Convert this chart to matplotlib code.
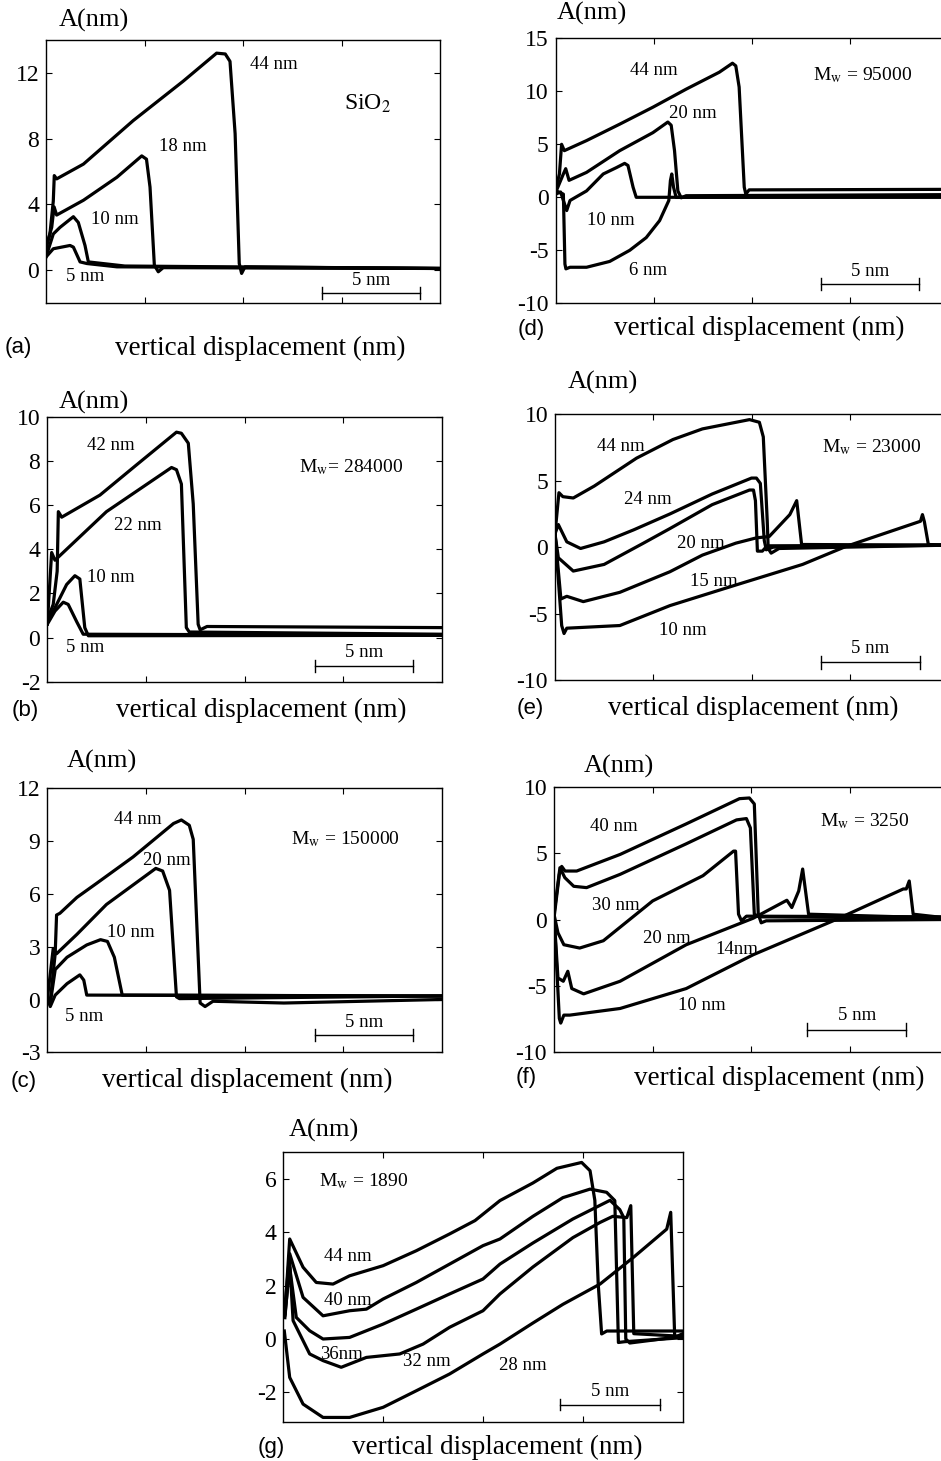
import matplotlib
matplotlib.use("Agg")
import matplotlib.pyplot as plt

plt.rcParams['font.family'] = ['Liberation Serif', 'DejaVu Serif']
plt.rcParams['mathtext.fontset'] = 'stix'
plt.rcParams['axes.unicode_minus'] = False

# x in nm of vertical displacement, y = A (nm)
# (a) SiO2
a44_x = [0, 0.2, 0.37, 0.42, 0.54, 1.9, 4.43, 6.97, 8.66, 9.1, 9.34, 9.6, 9.81, 9.93, 10.1, 20]
a44_y = [1.3, 2.2, 4.2, 5.75, 5.55, 6.45, 9.1, 11.5, 13.2, 13.15, 12.7, 8.3, 0.4, -0.2, 0.2, 0.1]
a18_x = [0, 0.29, 0.41, 0.54, 1.9, 3.6, 4.86, 5.1, 5.28, 5.5, 5.7, 5.95, 20]
a18_y = [1.4, 2.6, 3.85, 3.35, 4.25, 5.65, 6.95, 6.75, 5.05, 0.3, -0.1, 0.15, 0.1]
a10_x = [0, 0.37, 0.71, 1.39, 1.64, 1.98, 2.15, 4.0, 20]
a10_y = [0.8, 2.2, 2.6, 3.25, 2.9, 1.5, 0.5, 0.25, 0.1]
a5_x = [0, 0.37, 1.22, 1.39, 1.73, 2.08, 3.6, 20]
a5_y = [0.8, 1.3, 1.5, 1.4, 0.5, 0.4, 0.2, 0.1]

# (d) Mw = 95000
d44_x = [0, 0.19, 0.3, 0.44, 1.57, 3.26, 4.95, 6.64, 8.33, 9.0, 9.17, 9.34, 9.6, 9.68, 9.85, 20]
d44_y = [0.8, 2.2, 5.0, 4.4, 5.35, 6.9, 8.5, 10.2, 11.8, 12.65, 12.4, 10.4, 0.95, 0.3, 0.7, 0.75]
d20_x = [0, 0.39, 0.51, 0.68, 1.57, 3.26, 4.95, 5.71, 5.88, 6.05, 6.22, 6.39, 6.64, 20]
d20_y = [0.47, 2.2, 2.7, 1.6, 2.35, 4.4, 6.1, 7.1, 6.8, 4.4, 0.6, -0.05, 0.15, 0.25]
d10_x = [0, 0.25, 0.56, 0.73, 1.57, 2.42, 3.09, 3.51, 3.68, 3.94, 4.1, 20]
d10_y = [0.3, 0.5, -1.25, -0.3, 0.6, 2.2, 2.8, 3.2, 3.0, 0.95, 0.0, 0.0]
d6_x = [0, 0.39, 0.47, 0.52, 0.73, 1.57, 2.75, 3.77, 4.61, 5.29, 5.76, 5.84, 5.91, 6.0, 6.13, 20]
d6_y = [0.63, 0.3, -6.3, -6.75, -6.6, -6.6, -6.05, -5.0, -3.8, -2.2, -0.3, 1.57, 2.2, 0.95, 0.0, 0.05]

# (b) Mw = 284000
b42_x = [0, 0.3, 0.5, 0.56, 0.73, 2.67, 4.5, 6.55, 6.8, 7.15, 7.4, 7.65, 7.75, 8.1, 20]
b42_y = [0.8, 1.5, 3.0, 5.7, 5.45, 6.45, 7.8, 9.3, 9.25, 8.8, 6.05, 0.6, 0.35, 0.5, 0.45]
b22_x = [0, 0.22, 0.39, 3.0, 6.3, 6.55, 6.8, 7.05, 7.2, 20]
b22_y = [0.6, 3.85, 3.5, 5.7, 7.7, 7.6, 6.95, 0.45, 0.25, 0.15]
b10_x = [0, 0.39, 0.98, 1.4, 1.65, 1.9, 2.08, 20]
b10_y = [0.75, 1.35, 2.4, 2.8, 2.65, 0.45, 0.08, 0.1]
b5_x = [0, 0.39, 0.81, 1.06, 1.5, 1.82, 20]
b5_y = [0.6, 1.2, 1.6, 1.5, 0.7, 0.15, 0.1]

# (e) Mw = 23000
e44_x = [0, 0.2, 0.4, 0.93, 2.0, 4.15, 6.0, 7.5, 9.9, 10.4, 10.6, 10.8, 10.85, 11.0, 11.4, 20]
e44_y = [1.0, 4.1, 3.8, 3.7, 4.6, 6.7, 8.1, 8.9, 9.6, 9.4, 8.3, 2.0, -0.1, -0.45, -0.1, 0.15]
e24_x = [0, 0.17, 0.6, 1.3, 2.5, 4.0, 5.85, 8.0, 10.0, 10.25, 10.45, 10.65, 10.75, 11.1, 20]
e24_y = [1.0, 1.7, 0.4, -0.1, 0.4, 1.3, 2.5, 4.0, 5.2, 5.2, 4.8, 0.5, -0.2, 0.0, 0.15]
e20_x = [0, 0.17, 0.93, 2.5, 4.5, 5.85, 8.0, 9.9, 10.1, 10.2, 10.3, 10.55, 10.8, 20]
e20_y = [1.0, -0.8, -1.8, -1.3, 0.3, 1.4, 3.2, 4.3, 4.3, 3.5, -0.3, -0.3, 0.1, 0.15]
e15_x = [0, 0.3, 0.6, 1.44, 3.3, 5.85, 7.5, 9.2, 10.25, 10.9, 11.95, 12.3, 12.55, 20]
e15_y = [1.0, -3.9, -3.7, -4.1, -3.4, -1.85, -0.6, 0.3, 0.7, 0.8, 2.45, 3.5, 0.2, 0.15]
e10_x = [0, 0.34, 0.46, 0.6, 3.3, 5.85, 9.2, 12.6, 14.8, 18.4, 18.6, 18.7, 18.8, 19.0, 20]
e10_y = [1.0, -5.9, -6.5, -6.1, -5.9, -4.4, -2.85, -1.3, 0.05, 1.85, 1.95, 2.45, 1.9, 0.2, 0.15]

# (c) Mw = 150000
c44_x = [0, 0.14, 0.4, 0.47, 0.64, 1.5, 2.5, 4.35, 6.4, 6.8, 7.2, 7.4, 7.75, 8.0, 8.4, 12, 20]
c44_y = [0.15, -0.2, 2.6, 4.8, 4.9, 5.8, 6.6, 8.1, 10.0, 10.2, 9.9, 9.1, -0.2, -0.4, -0.1, -0.2, 0.0]
c20_x = [0, 0.3, 0.47, 1.5, 3.0, 5.5, 5.85, 6.2, 6.55, 6.7, 20]
c20_y = [0.0, 2.9, 2.6, 3.7, 5.4, 7.45, 7.3, 6.2, 0.15, 0.05, 0.2]
c10_x = [0, 0.14, 0.4, 1.0, 2.0, 2.7, 3.05, 3.4, 3.8, 20]
c10_y = [0.0, -0.3, 1.7, 2.4, 3.1, 3.4, 3.3, 2.4, 0.25, 0.2]
c5_x = [0, 0.15, 0.4, 1.0, 1.65, 1.85, 2.0, 20]
c5_y = [0.15, -0.4, 0.25, 0.9, 1.4, 1.1, 0.25, 0.2]

# (f) Mw = 3250
f40_x = [0, 0.27, 0.39, 0.56, 1.15, 3.35, 6.7, 9.4, 9.9, 10.15, 10.35, 10.5, 10.75, 20]
f40_y = [0.1, 3.4, 4.0, 3.65, 3.65, 4.9, 7.2, 9.1, 9.15, 8.7, 0.4, -0.25, -0.1, 0.0]
f30_x = [0, 0.3, 0.55, 1.0, 1.65, 3.35, 6.7, 9.25, 9.75, 9.95, 10.15, 10.4, 20]
f30_y = [0.4, 3.9, 3.15, 2.5, 2.4, 3.4, 5.7, 7.5, 7.6, 6.9, 0.4, 0.2, 0.1]
f20_x = [0, 0.2, 0.5, 1.3, 2.5, 5.0, 7.55, 9.1, 9.2, 9.35, 9.5, 9.75, 20]
f20_y = [0.4, -1.0, -1.9, -2.15, -1.6, 1.4, 3.3, 5.15, 5.15, 0.4, -0.1, 0.25, 0.2]
f14_x = [0, 0.2, 0.47, 0.7, 0.9, 1.5, 3.35, 6.7, 10.1, 11.8, 12.05, 12.4, 12.6, 12.9, 20]
f14_y = [0.4, -4.4, -4.65, -3.9, -5.2, -5.6, -4.65, -1.9, 0.1, 1.45, 0.9, 2.15, 3.8, 0.4, 0.1]
f10_x = [0, 0.27, 0.34, 0.5, 0.8, 3.35, 6.7, 10.1, 14.3, 17.7, 17.85, 18.0, 18.2, 20]
f10_y = [0.4, -7.45, -7.8, -7.2, -7.2, -6.7, -5.2, -2.65, 0.0, 2.3, 2.3, 2.9, 0.4, 0.1]

# (g) Mw = 1890
g44_x = [0.08, 0.32, 0.99, 1.65, 2.49, 3.32, 5.0, 6.66, 8.33, 9.6, 10.85, 12.5, 13.7, 14.94, 15.36, 15.6, 15.77, 15.94, 16.2, 20]
g44_y = [0.95, 3.75, 2.69, 2.12, 2.06, 2.37, 2.75, 3.31, 3.94, 4.44, 5.19, 5.85, 6.4, 6.62, 6.31, 5.2, 2.06, 0.19, 0.3, 0.3]
g40_x = [0.08, 0.32, 0.99, 1.99, 3.32, 4.16, 5.0, 6.66, 8.33, 10.0, 10.85, 12.5, 14.0, 15.36, 16.19, 16.6, 16.78, 17.1, 20]
g40_y = [1.2, 3.2, 1.56, 0.87, 1.06, 1.12, 1.5, 2.12, 2.81, 3.5, 3.75, 4.6, 5.3, 5.62, 5.5, 5.19, -0.13, -0.1, 0.05]
g36_x = [0.08, 0.32, 0.65, 1.32, 1.99, 3.32, 5.0, 6.66, 8.33, 10.0, 10.85, 12.5, 14.5, 16.36, 16.85, 17.05, 17.15, 17.35, 20]
g36_y = [0.9, 2.69, 0.81, 0.31, 0.0, 0.06, 0.56, 1.12, 1.69, 2.25, 2.81, 3.6, 4.5, 5.2, 4.85, 4.55, 0.0, -0.15, 0.1]
g32_x = [0.08, 0.32, 0.49, 1.32, 1.99, 2.9, 4.16, 5.83, 7.0, 8.33, 10.0, 10.85, 12.5, 14.5, 15.86, 16.5, 17.2, 17.4, 17.55, 20]
g32_y = [0.8, 2.9, 0.69, -0.56, -0.81, -1.06, -0.69, -0.56, -0.19, 0.44, 1.06, 1.69, 2.7, 3.8, 4.37, 4.6, 4.55, 5.0, 0.2, 0.1]
g28_x = [0.05, 0.32, 0.99, 1.99, 3.32, 5.0, 6.66, 8.33, 10.0, 10.85, 12.5, 14.0, 15.86, 17.53, 19.2, 19.4, 19.6, 20]
g28_y = [0.3, -1.44, -2.44, -2.94, -2.94, -2.56, -1.94, -1.31, -0.56, -0.19, 0.6, 1.3, 2.06, 3.06, 4.12, 4.75, 0.06, 0.2]

W, H = 941, 1461
fig = plt.figure(figsize=(W / 100, H / 100), dpi=100)

LAB = 13.5    # in-panel curve labels
XL = 19.5     # x axis label


def box(l, t, r, b):
    return fig.add_axes([l / W, 1 - b / H, (r - l) / W, (b - t) / H])


def ftext(x, y, s, **kw):
    fig.text(x / W, 1 - y / H, s, ha='center', va='center', **kw)


def setup(ax, ylim, yticks):
    ax.set_xlim(0, 20)
    ax.set_ylim(*ylim)
    ax.set_xticks([5, 10, 15])
    ax.set_xticklabels([])
    ax.set_yticks(yticks)
    ax.tick_params(direction='in', top=True, right=True, length=4, width=0.8,
                   labelsize=17, pad=5)
    for s in ax.spines.values():
        s.set_linewidth(1.0)


def curve(ax, xs, ys):
    ax.plot(xs, ys, color='black', lw=2.3, solid_joinstyle='round')


def scalebar(ax, x0, y, dy):
    ax.plot([x0, x0 + 5], [y, y], color='black', lw=1.0)
    ax.plot([x0, x0], [y - dy, y + dy], color='black', lw=1.0)
    ax.plot([x0 + 5, x0 + 5], [y - dy, y + dy], color='black', lw=1.0)
    ax.text(x0 + 2.5, y + dy * 0.8, '5 nm', ha='center', va='bottom', fontsize=LAB)


def lab(ax, x, y, s, size=LAB):
    ax.text(x, y, s, ha='center', va='center', fontsize=size)


def frame_text(ay, lx, ly, tag, tx, ty, xx, xy):
    ftext(ay[0], ay[1], 'A(nm)', fontsize=19)
    ftext(tx, ty, tag, fontsize=16, family='Liberation Sans')
    ftext(xx, xy, 'vertical displacement (nm)', fontsize=XL)


# ---- (a)
ax = box(46, 40, 440, 303)
setup(ax, (-2, 14), [0, 4, 8, 12])
for xs, ys in [(a44_x, a44_y), (a18_x, a18_y), (a10_x, a10_y), (a5_x, a5_y)]:
    curve(ax, xs, ys)
lab(ax, 11.57, 12.5, '44 nm')
lab(ax, 16.3, 10.1, r'SiO$_2$', 17)
lab(ax, 6.95, 7.5, '18 nm')
lab(ax, 3.5, 3.1, '10 nm')
lab(ax, 2.0, -0.36, '5 nm')
scalebar(ax, 14.0, -1.4, 0.35)
frame_text((94, 20), 0, 0, '(a)', 18, 348, 260, 348)

# ---- (d)
ax = box(555.7, 38.3, 948.5, 303.3)
setup(ax, (-10, 15), [-10, -5, 0, 5, 10, 15])
for xs, ys in [(d44_x, d44_y), (d20_x, d20_y), (d10_x, d10_y), (d6_x, d6_y)]:
    curve(ax, xs, ys)
lab(ax, 4.98, 11.95, '44 nm')
lab(ax, 6.96, 7.86, '20 nm')
lab(ax, 2.79, -2.2, '10 nm')
lab(ax, 4.71, -6.9, '6 nm')
lab(ax, 15.6, 11.5, r'M$_{\mathrm{w}}$ = 95000', 14)
scalebar(ax, 13.5, -8.2, 0.55)
frame_text((592, 13), 0, 0, '(d)', 531, 330, 759, 328)

# ---- (b)
ax = box(47.3, 416.7, 441.7, 681.7)
setup(ax, (-2, 10), [-2, 0, 2, 4, 6, 8, 10])
for xs, ys in [(b42_x, b42_y), (b22_x, b22_y), (b10_x, b10_y), (b5_x, b5_y)]:
    curve(ax, xs, ys)
lab(ax, 3.23, 8.7, '42 nm')
lab(ax, 4.6, 5.08, '22 nm')
lab(ax, 3.2, 2.73, '10 nm')
lab(ax, 1.93, -0.45, '5 nm')
lab(ax, 15.4, 7.73, r'M$_{\mathrm{w}}$= 284000', 14)
scalebar(ax, 13.56, -1.29, 0.27)
frame_text((94, 402), 0, 0, '(b)', 25, 710, 261, 710)

# ---- (e)
ax = box(555, 414.3, 948, 680)
setup(ax, (-10, 10), [-10, -5, 0, 5, 10])
for xs, ys in [(e44_x, e44_y), (e24_x, e24_y), (e20_x, e20_y), (e15_x, e15_y), (e10_x, e10_y)]:
    curve(ax, xs, ys)
lab(ax, 3.34, 7.6, '44 nm')
lab(ax, 4.7, 3.6, '24 nm')
lab(ax, 7.4, 0.3, '20 nm')
lab(ax, 8.1, -2.6, '15 nm')
lab(ax, 6.5, -6.25, '10 nm')
lab(ax, 16.1, 7.55, r'M$_{\mathrm{w}}$ = 23000', 14)
scalebar(ax, 13.56, -8.66, 0.5)
frame_text((603, 382), 0, 0, '(e)', 530, 708, 753, 708)

# ---- (c)
ax = box(47.3, 788.3, 441.7, 1052.3)
setup(ax, (-3, 12), [-3, 0, 3, 6, 9, 12])
for xs, ys in [(c44_x, c44_y), (c20_x, c20_y), (c10_x, c10_y), (c5_x, c5_y)]:
    curve(ax, xs, ys)
lab(ax, 4.61, 10.25, '44 nm')
lab(ax, 6.08, 7.9, '20 nm')
lab(ax, 4.22, 3.8, '10 nm')
lab(ax, 1.88, -0.99, '5 nm')
lab(ax, 15.1, 9.1, r'M$_{\mathrm{w}}$ = 150000', 14)
scalebar(ax, 13.56, -2.03, 0.33)
frame_text((102, 761), 0, 0, '(c)', 24, 1081, 247, 1080)

# ---- (f)
ax = box(554, 786.7, 948.7, 1052.3)
setup(ax, (-10, 10), [-10, -5, 0, 5, 10])
for xs, ys in [(f40_x, f40_y), (f30_x, f30_y), (f20_x, f20_y), (f14_x, f14_y), (f10_x, f10_y)]:
    curve(ax, xs, ys)
lab(ax, 3.04, 6.98, '40 nm')
lab(ax, 3.13, 1.08, '30 nm')
lab(ax, 5.74, -1.44, '20 nm')
lab(ax, 9.27, -2.27, '14nm')
lab(ax, 7.5, -6.5, '10 nm')
lab(ax, 15.76, 7.43, r'M$_{\mathrm{w}}$ = 3250', 14)
scalebar(ax, 12.84, -8.3, 0.5)
frame_text((619, 766), 0, 0, '(f)', 526, 1078, 779, 1078)

# ---- (g)
ax = box(283.3, 1152.3, 682.7, 1421.7)
setup(ax, (-3.1, 7.0), [-2, 0, 2, 4, 6])
for xs, ys in [(g44_x, g44_y), (g40_x, g40_y), (g36_x, g36_y), (g32_x, g32_y), (g28_x, g28_y)]:
    curve(ax, xs, ys)
lab(ax, 3.21, 3.09, '44 nm')
lab(ax, 3.21, 1.46, '40 nm')
lab(ax, 2.91, -0.59, '36nm')
lab(ax, 7.2, -0.84, '32 nm')
lab(ax, 11.97, -1.0, '28 nm')
lab(ax, 4.05, 5.9, r'M$_{\mathrm{w}}$ = 1890', 14)
scalebar(ax, 13.88, -2.46, 0.22)
frame_text((324, 1130), 0, 0, '(g)', 271, 1448, 497, 1447)

fig.savefig('out.png', dpi=100)
